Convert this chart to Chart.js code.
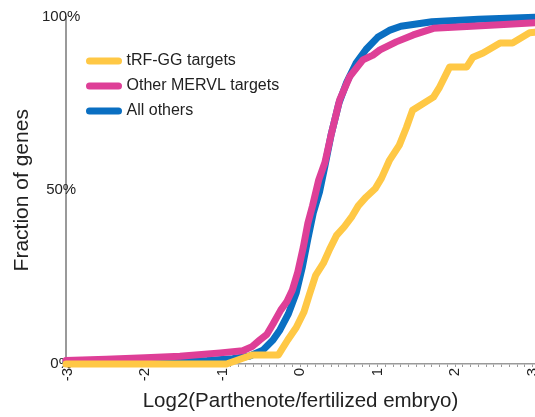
<!DOCTYPE html>
<html>
<head>
<meta charset="utf-8">
<script src="https://cdn.jsdelivr.net/npm/chart.js@4/dist/chart.umd.min.js"></script>
<style>
html,body{margin:0;padding:0;background:#fff;}
#wrap{width:535px;height:417px;position:relative;}
</style>
</head>
<body>
<div id="wrap"><canvas id="c" width="535" height="417"></canvas></div>
<script>
// ---- data ----
const seriesNames = ['tRF-GG targets', 'Other MERVL targets', 'All others'];

const tRFx = [-3.02, -0.95, -0.62, -0.28, -0.16, -0.05, 0.05, 0.12, 0.2, 0.3, 0.38, 0.47, 0.57, 0.67, 0.75, 0.85, 0.97, 1.05, 1.15, 1.28, 1.37, 1.45, 1.72, 1.8, 1.93, 2.15, 2.23, 2.36, 2.58, 2.74, 2.96, 3.03];
const tRFy = [0, 0, 2.6, 2.6, 6.9, 10.5, 15, 20, 25.5, 29, 33, 37, 39.5, 42.5, 45.5, 48, 50.5, 53.5, 58.5, 63, 68, 73, 76.8, 79.7, 85.5, 85.5, 88.3, 89.5, 92.4, 92.4, 95.3, 95.5];

const mervlX = [-3.02, -2.5, -2, -1.55, -1.03, -0.74, -0.62, -0.52, -0.43, -0.35, -0.25, -0.17, -0.1, -0.03, 0.04, 0.1, 0.16, 0.24, 0.32, 0.4, 0.51, 0.64, 0.81, 0.94, 1.03, 1.24, 1.46, 1.72, 2.15, 2.57, 3.03];
const mervlY = [1.0, 1.4, 1.8, 2.2, 3.2, 3.8, 5.0, 6.9, 8.5, 11.5, 15.5, 18, 21.3, 26.5, 33.5, 40.5, 45.5, 53, 58, 66, 76, 82.7, 87.5, 88.9, 90.4, 92.7, 94.7, 96.6, 97.1, 97.6, 98.2];

const otherX = [-3.02, -2, -1.2, -0.87, -0.65, -0.48, -0.35, -0.26, -0.15, -0.05, 0.03, 0.1, 0.17, 0.25, 0.32, 0.4, 0.5, 0.6, 0.72, 0.85, 1.0, 1.15, 1.3, 1.7, 2.3, 3.03];
const otherY = [0.5, 0.6, 1.0, 1.5, 2.3, 4.0, 6.9, 9.8, 14.5, 20.5, 28, 36, 43.5, 49.5, 57, 66, 75, 81, 86.5, 90.5, 94, 96, 97.2, 98.5, 99.2, 99.8];

const xTickLabels = [-3, -2, -1, 0, 1, 2, 3];
const yTickLabels = [0, 50, 100];

const colors = ['#FFC845', '#DE3F97', '#0A6FC2'];

function pts(xs, ys) { return xs.map((x, i) => ({x: x, y: ys[i]})); }

const FONT = "'Liberation Sans', Arial, Helvetica, sans-serif";

const legendShift = {
  id: 'legendShift',
  afterLayout(chart) {
    const lg = chart.legend;
    if (!lg) return;
    lg.left = 80.5;
    lg.top = 44;
  }
};

const mk = (label, data, color) => ({
  label: label,
  data: data,
  borderColor: color,
  backgroundColor: color,
  borderWidth: 7,
  pointRadius: 0,
  pointHoverRadius: 0,
  tension: 0,
  borderJoinStyle: 'round',
  borderCapStyle: 'round',
  clip: 8
});

new Chart(document.getElementById('c'), {
  type: 'line',
  data: {
    datasets: [
      mk(seriesNames[0], pts(tRFx, tRFy), colors[0]),
      mk(seriesNames[1], pts(mervlX, mervlY), colors[1]),
      mk(seriesNames[2], pts(otherX, otherY), colors[2])
    ]
  },
  options: {
    responsive: false,
    animation: false,
    events: [],
    layout: {padding: {top: 16.5, left: 0, right: 0, bottom: 0}},
    plugins: {
      tooltip: {enabled: false},
      legend: {
        position: 'chartArea',
        align: 'start',
        labels: {
          usePointStyle: true,
          pointStyle: 'line',
          pointStyleWidth: 29,
          padding: 9,
          color: '#222',
          font: {family: FONT, size: 16},
          generateLabels: (c) => Chart.defaults.plugins.legend.labels.generateLabels(c).map(l => Object.assign(l, {lineCap: 'round', lineWidth: 7}))
        }
      }
    },
    scales: {
      x: {
        type: 'linear',
        min: -3.02,
        max: 3.03,
        afterBuildTicks: (s) => {
          const t = [];
          for (let i = -30; i <= 30; i++) t.push({value: i / 10});
          s.ticks = t;
        },
        afterFit: (s) => { s.height = 53; s.paddingLeft = 0; s.paddingRight = 0; },
        grid: {drawOnChartArea: false, drawTicks: true, tickLength: 3, color: '#9a9a9a', lineWidth: 1},
        border: {display: true, color: '#9a9a9a', width: 1.5},
        ticks: {
          autoSkip: false,
          minRotation: 90,
          maxRotation: 90,
          padding: 1,
          color: '#222',
          font: {family: FONT, size: 15},
          callback: (v) => {
            const r = Math.round(v);
            return (Math.abs(v - r) < 1e-6 && xTickLabels.includes(r)) ? String(r) : '';
          }
        },
        title: {
          display: true,
          text: 'Log2(Parthenote/fertilized embryo)',
          color: '#222',
          font: {family: FONT, size: 20.5},
          padding: {top: 0, bottom: 3}
        }
      },
      y: {
        min: 0,
        max: 100,
        afterBuildTicks: (s) => { s.ticks = yTickLabels.map(v => ({value: v})); },
        afterFit: (s) => { s.width = 66; s.paddingTop = 0; s.paddingBottom = 0; },
        grid: {display: true, drawOnChartArea: false, drawTicks: false},
        border: {display: true, color: '#9a9a9a', width: 2},
        ticks: {
          mirror: true,
          crossAlign: 'center',
          padding: -24,
          color: '#222',
          font: {family: FONT, size: 15},
          callback: (v) => v + '%'
        },
        title: {
          display: true,
          text: 'Fraction of genes',
          color: '#222',
          font: {family: FONT, size: 21},
          padding: {top: 10, bottom: 0}
        }
      }
    }
  },
  plugins: [legendShift]
});
</script>
</body>
</html>
